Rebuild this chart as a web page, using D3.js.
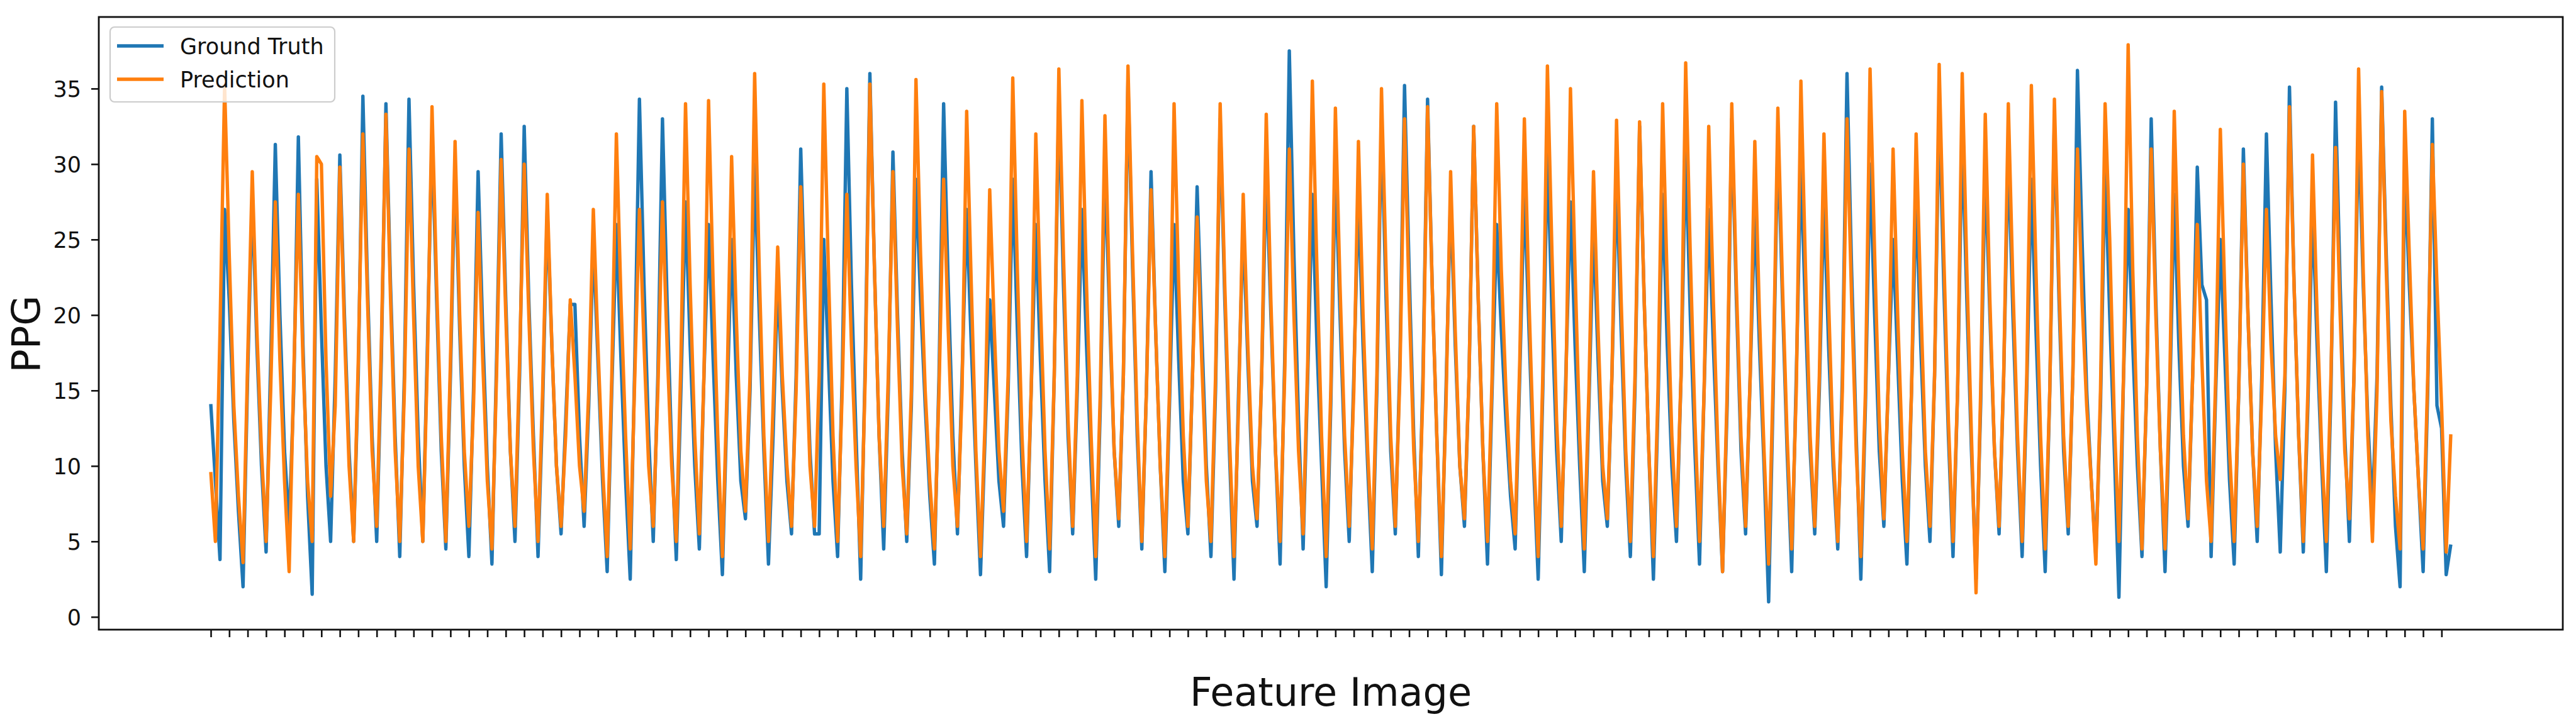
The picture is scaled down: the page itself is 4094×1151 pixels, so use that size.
<!DOCTYPE html>
<html>
<head>
<meta charset="utf-8">
<script src="https://cdn.jsdelivr.net/npm/d3@7"></script>
<style>
  html, body { margin: 0; padding: 0; background: #fff; }
  svg { display: block; }
  text { font-family: "DejaVu Sans", sans-serif; fill: #111; }
</style>
</head>
<body>
<svg id="chart" width="4094" height="1151"></svg>
<script>
// PPG ground truth vs prediction, one value per sample
const groundTruth = [
  14.1, 9.0, 3.8,
  27, 21, 13, 7, 2.0, 16,
  28, 18, 10, 4.3, 17,
  31.3, 20, 11, 6, 15,
  31.8, 18, 8, 1.5,
  29, 19, 10, 5, 16,
  30.6, 20, 11, 5, 16,
  34.5, 22, 12, 5, 17,
  34, 22, 12, 4, 16,
  34.3, 22, 12, 5, 18,
  32, 21, 11, 4.5, 16,
  30, 19, 10, 4, 15,
  29.5, 19, 10, 3.5, 17,
  32, 21, 11, 5, 16,
  32.5, 21, 12, 4, 14,
  27, 18, 10, 5.5, 13,
  20.7, 20.7, 12, 6, 14,
  25, 17, 9, 3, 15,
  26, 17, 9, 2.5, 17,
  34.3, 22, 12, 5, 16,
  33, 21, 11, 3.8, 15,
  27.5, 18, 10, 4.5, 16,
  26, 17, 9, 2.8, 14,
  25, 16, 9, 6.5, 15,
  30, 20, 11, 3.5, 12,
  22.5, 15, 9, 5.5, 16,
  31, 20, 11, 5.5, 5.5,
  25, 17, 9, 4, 16,
  35, 22, 12, 2.5, 17,
  36, 23, 12, 4.5, 15,
  30.8, 20, 11, 5, 14,
  29, 21, 14, 8, 3.5, 16,
  34, 22, 12, 5.5, 16,
  27, 18, 10, 2.8, 12,
  21, 15, 9, 6, 15,
  29, 19, 10, 4, 15,
  26, 17, 9, 3, 16,
  34.5, 22, 12, 5.5, 15,
  27, 18, 10, 2.5, 14,
  30, 20, 11, 6, 16,
  35.5, 23, 12, 4.5, 15,
  29.5, 19, 10, 3, 14,
  26, 17, 9, 5.5, 16,
  28.5, 19, 10, 4, 15,
  33, 21, 11, 2.5, 15,
  26, 17, 9, 6, 16,
  30, 20, 11, 3.5, 17,
  37.5, 24, 13, 4.5, 16,
  28, 18, 10, 2, 14,
  30, 20, 11, 5, 16,
  28, 18, 10, 3, 15,
  33, 21, 11, 5.5, 17,
  35.2, 23, 12, 4, 16,
  34.3, 22, 12, 2.8, 15,
  28, 18, 10, 6, 16,
  32.5, 21, 11, 3.5, 15,
  26, 19, 13, 8, 4.5, 16,
  28.5, 19, 10, 2.5, 15,
  31, 20, 11, 5, 16,
  27.5, 18, 10, 3, 14,
  26, 17, 9, 6, 16,
  29, 19, 10, 4, 15,
  32.5, 21, 11, 2.5, 14,
  28, 18, 10, 5, 16,
  31, 20, 11, 3.5, 15,
  27, 18, 10, 3, 14,
  33, 21, 11, 5.5, 16,
  27, 18, 10, 1.0, 15,
  32, 21, 11, 3, 16,
  30, 20, 11, 5.5, 15,
  28, 18, 10, 4.5, 16,
  36, 23, 12, 2.5, 14,
  30, 20, 11, 6, 16,
  25, 17, 9, 3.5, 15,
  28, 18, 10, 5, 16,
  34, 22, 12, 4, 15,
  32, 21, 11, 2.5, 14,
  30, 20, 11, 5.5, 16,
  31, 20, 11, 4, 15,
  29, 19, 10, 3, 15,
  33, 21, 11, 5.5, 16,
  36.2, 25, 15, 9, 4, 14,
  30, 20, 11, 1.3, 16,
  27, 18, 10, 4, 15,
  33, 21, 11, 3, 14,
  28, 18, 10, 6, 16,
  29.8, 22, 21, 4, 15,
  25, 17, 9, 3.5, 15,
  31, 20, 11, 5, 16,
  32, 21, 11, 4.3, 15,
  35.1, 22, 12, 4.3, 14,
  27.2, 18, 10, 3.0, 15,
  34.1, 22, 12, 5, 16,
  33, 22, 13, 7.0, 16,
  35.1, 24, 14, 6, 2.0,
  30, 22, 15, 9, 3.0, 15,
  33, 14, 12.5, 2.8, 4.8
];

const prediction = [
  9.6, 5.0, 19,
  35.2, 24, 14, 8, 3.6, 17,
  29.5, 19, 11, 5.0, 15,
  27.5, 17, 9, 3.0, 16,
  28, 17, 9, 5,
  30.5, 30, 17, 8, 14,
  29.8, 19, 10, 5, 17,
  32, 21, 11, 6, 18,
  33.3, 21, 11, 5, 15,
  31, 20, 10, 5, 17,
  33.8, 22, 12, 5, 17,
  31.5, 20, 11, 6, 14,
  26.8, 17, 9, 4.5, 16,
  30.3, 20, 11, 6, 17,
  30, 20, 11, 5, 15,
  28, 18, 10, 6, 12,
  21, 16, 10, 7, 15,
  27, 18, 10, 4, 16,
  32, 21, 12, 4.5, 16,
  27, 18, 10, 6, 15,
  27.5, 18, 10, 5, 17,
  34, 22, 12, 5.5, 16,
  34.2, 22, 12, 4, 15,
  30.5, 20, 11, 7, 16,
  36, 23, 12, 5, 14,
  24.5, 16, 10, 6, 15,
  28.5, 19, 10, 6, 16,
  35.3, 23, 12, 5, 15,
  28, 18, 10, 4, 16,
  35.3, 23, 12, 6, 16,
  29.5, 19, 10, 5.5, 15,
  35.6, 24, 15, 9, 4.5, 15,
  29, 19, 10, 6, 15,
  33.5, 22, 11, 4, 13,
  28.3, 19, 11, 7, 16,
  35.7, 23, 12, 5, 15,
  32, 21, 11, 4.5, 16,
  36.3, 24, 13, 6, 16,
  34.2, 22, 12, 4, 15,
  33.2, 21, 11, 6.5, 16,
  36.5, 24, 13, 5, 15,
  28.3, 19, 10, 4, 15,
  34, 22, 12, 6, 16,
  26.5, 17, 9, 5, 16,
  34, 22, 12, 4, 14,
  28, 18, 10, 6.5, 16,
  33.3, 21, 11, 5, 16,
  31, 20, 11, 5.5, 17,
  35.5, 23, 12, 4, 15,
  33.7, 22, 12, 6, 15,
  31.5, 20, 11, 4.5, 16,
  35, 23, 12, 6, 16,
  33, 21, 11, 5, 15,
  33.8, 22, 12, 4, 14,
  29.5, 19, 10, 6.5, 16,
  32.5, 21, 11, 5, 16,
  34, 23, 15, 9, 5.5, 17,
  33, 21, 11, 4, 16,
  36.5, 24, 13, 6, 15,
  35, 23, 12, 4.5, 15,
  29.5, 19, 10, 6.5, 16,
  32.9, 21, 11, 5, 16,
  32.8, 21, 11, 4, 15,
  34, 22, 12, 6, 16,
  36.7, 24, 13, 5, 15,
  32.5, 21, 11, 3, 15,
  34, 22, 12, 6, 16,
  31.5, 20, 11, 3.5, 16,
  33.7, 22, 12, 4.5, 15,
  35.5, 23, 12, 6, 16,
  32, 21, 11, 5, 15,
  33, 21, 11, 4, 15,
  36.3, 24, 13, 6.5, 16,
  31, 20, 11, 5, 15,
  32, 21, 11, 6, 16,
  36.6, 24, 13, 5, 15,
  36, 23, 12, 1.6, 15,
  33.3, 21, 11, 6, 16,
  34, 22, 12, 5, 16,
  35.2, 23, 12, 4.5, 15,
  34.3, 22, 12, 6, 16,
  31, 21, 14, 9, 3.5, 15,
  34, 25, 13, 5, 16,
  37.9, 23, 12, 4.5, 15,
  31, 20, 11, 4.5, 15,
  33.5, 22, 12, 6.5, 16,
  26, 17, 9, 5, 16,
  32.3, 21, 11, 5, 15,
  30, 20, 11, 6, 15,
  27, 18, 12, 9.1, 16,
  33.8, 22, 12, 5, 15,
  30.6, 20, 11, 5, 16,
  31.1, 20, 11, 6.5, 16,
  36.3, 23, 12, 5, 15,
  34.8, 23, 13, 8, 4.5,
  33.5, 24, 15, 9, 4.5, 16,
  31.3, 22, 14, 4.3, 12.1
];

const seriesNames = ["Ground Truth", "Prediction"];
const seriesColors = ["#1f77b4", "#ff7f0e"];
const yTicks = [0, 5, 10, 15, 20, 25, 30, 35];
const xTickStep = 4;          // one (blank) tick label every 4 samples
const xLabel = "Feature Image";
const yLabel = "PPG";

if (groundTruth.length !== prediction.length) {
  console.warn("series lengths differ", groundTruth.length, prediction.length);
}

const svg = d3.select("#chart");
const W = 4094, H = 1151;
const plot = { left: 157, right: 4073, top: 27, bottom: 1001 };

svg.append("rect").attr("width", W).attr("height", H).attr("fill", "#fff");

const n = groundTruth.length;
// matplotlib style 5% margins on both axes
const xPad = (n - 1) * 0.05;
const x = d3.scaleLinear()
  .domain([-xPad, n - 1 + xPad])
  .range([plot.left, plot.right]);

const ext = d3.extent(groundTruth.concat(prediction));
const yPad = (ext[1] - ext[0]) * 0.05;
const y = d3.scaleLinear()
  .domain([ext[0] - yPad, ext[1] + yPad])
  .range([plot.bottom, plot.top]);

// lines
const line = d3.line()
  .x((d, i) => x(i))
  .y(d => y(d));

const g = svg.append("g");
[groundTruth, prediction].forEach((s, k) => {
  g.append("path")
    .datum(s)
    .attr("d", line)
    .attr("fill", "none")
    .attr("stroke", seriesColors[k])
    .attr("stroke-width", 5.4)
    .attr("stroke-linejoin", "round")
    .attr("stroke-linecap", "butt");
});

// axes
const xTickVals = d3.range(0, n, xTickStep);
const xAxis = d3.axisBottom(x)
  .tickValues(xTickVals)
  .tickFormat(() => "")
  .tickSize(12)
  .tickSizeOuter(0);
const yAxis = d3.axisLeft(y)
  .tickValues(yTicks)
  .tickSize(12)
  .tickPadding(16)
  .tickSizeOuter(0);

const gx = svg.append("g")
  .attr("transform", `translate(0,${plot.bottom})`)
  .call(xAxis);
gx.select(".domain").remove();
gx.selectAll(".tick line").attr("stroke", "#111").attr("stroke-width", 2.6);

const gy = svg.append("g")
  .attr("transform", `translate(${plot.left},0)`)
  .call(yAxis);
gy.select(".domain").remove();
gy.selectAll(".tick line").attr("stroke", "#111").attr("stroke-width", 2.6);
gy.selectAll(".tick text")
  .attr("font-size", 35)
  .attr("font-family", "DejaVu Sans")
  .attr("fill", "#111")
  .attr("dy", "0.36em");

// frame
svg.append("rect")
  .attr("x", plot.left).attr("y", plot.top)
  .attr("width", plot.right - plot.left)
  .attr("height", plot.bottom - plot.top)
  .attr("fill", "none")
  .attr("stroke", "#111")
  .attr("stroke-width", 2.8);

// axis labels
svg.append("text")
  .attr("x", (plot.left + plot.right) / 2)
  .attr("y", 1122)
  .attr("text-anchor", "middle")
  .attr("font-size", 62)
  .text(xLabel);

svg.append("text")
  .attr("transform", "translate(63,531) rotate(-90)")
  .attr("text-anchor", "middle")
  .attr("font-size", 62)
  .text(yLabel);

// legend
const leg = svg.append("g");
leg.append("rect")
  .attr("x", 175).attr("y", 43)
  .attr("width", 357).attr("height", 119)
  .attr("rx", 7)
  .attr("fill", "#fff").attr("fill-opacity", 0.8)
  .attr("stroke", "#ccc").attr("stroke-width", 2.2);

seriesNames.forEach((name, k) => {
  const yy = 73 + k * 53;
  leg.append("line")
    .attr("x1", 186).attr("x2", 260)
    .attr("y1", yy).attr("y2", yy)
    .attr("stroke", seriesColors[k])
    .attr("stroke-width", 5.4);
  leg.append("text")
    .attr("x", 286).attr("y", yy + 13)
    .attr("font-size", 35)
    .text(name);
});
</script>
</body>
</html>
